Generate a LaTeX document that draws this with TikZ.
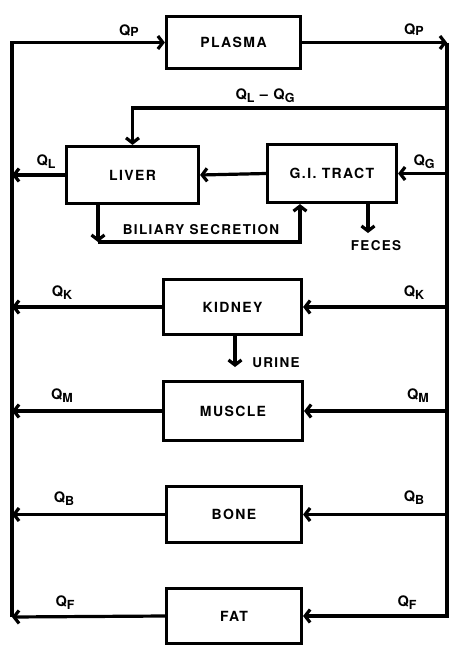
\documentclass[tikz,border=0pt]{standalone}
\usepackage{fontspec}
\setmainfont{TeX Gyre Heros}[LetterSpace=10]
\usetikzlibrary{arrows.meta}
\newcommand{\qsub}[2][-3pt]{Q\raisebox{#1}{\fontsize{12.5}{12}\selectfont #2}}
\tikzset{
  box/.style={draw, line width=3.2pt, inner sep=0pt, font=\fontsize{14}{16}\selectfont\bfseries},
  arr/.style={line width=3.2pt, -{Straight Barb[length=5pt,width=13pt]}},
  lab/.style={inner sep=0pt, font=\fontsize{14.5}{16}\selectfont\bfseries},
}
\begin{document}
\begin{tikzpicture}[x=1pt,y=-1pt]
\useasboundingbox (0,0) rectangle (454,648);
% boxes
\node[box, minimum width=134pt, minimum height=52pt] (plasma) at (233.5,42.5) {PLASMA};
\node[box, minimum width=132pt, minimum height=57pt] (liver) at (132.5,175) {LIVER};
\node[box, minimum width=129pt, minimum height=58pt] (gi) at (332,173.5) {G.I. TRACT};
\node[box, minimum width=138pt, minimum height=55pt] (kidney) at (232.5,307) {KIDNEY};
\node[box, minimum width=139pt, minimum height=59pt] (muscle) at (233,411) {MUSCLE};
\node[box, minimum width=135pt, minimum height=56pt] (bone) at (234,514.5) {BONE};
\node[box, minimum width=135pt, minimum height=55pt] (fat) at (234,616) {FAT};
% rails
\coordinate (LT) at (12,42.5);
\coordinate (LB) at (12,617);
\coordinate (RT) at (447,42.5);
\coordinate (QLG) at (447,108);
\draw[arr] (LB) |- (plasma.west);
\draw[arr] (plasma.east) -- (RT);
\draw[arr] (RT) |- (fat.east);
% left outflows
\draw[arr] (liver.west) -- (liver.west -| LT);
\draw[arr] (kidney.west) -- (kidney.west -| LT);
\draw[arr] (muscle.west) -- (muscle.west -| LT);
\draw[arr] (bone.west) -- (bone.west -| LT);
\draw[arr] (fat.west) -- (LB);
% right inflows
\draw[arr] (gi.east -| RT) -- (gi.east);
\draw[arr] (kidney.east -| RT) -- (kidney.east);
\draw[arr] (muscle.east -| RT) -- (muscle.east);
\draw[arr] (bone.east -| RT) -- (bone.east);
% hepatic
\draw[arr] (QLG) -| (liver.north);
\draw[arr] (gi.west) -- (liver.east);
\coordinate (b1) at (98,242);
\coordinate (b2) at (300,242);
\draw[arr] (liver.south -| b1) -- (b1);
\draw[arr] (b1) -- (b2) -- (gi.south -| b2);
\coordinate (fe) at (368,233);
\draw[arr] (gi.south -| fe) -- (fe);
\coordinate (ur) at (235,367);
\draw[arr] (kidney.south -| ur) -- (ur);
% texts
\node[lab, font=\fontsize{13.5}{16}\selectfont\bfseries] (bil) at (201,230) {BILIARY SECRETION};
\node[lab, font=\fontsize{13.5}{16}\selectfont\bfseries] (fec) at (376,246) {FECES};
\node[lab, font=\fontsize{13.5}{16}\selectfont\bfseries] (uri) at (276,363) {URINE};
% flow labels
\node[lab] (qp1) at (129,31) {\qsub[-1pt]{P}};
\node[lab] (qp2) at (414,30) {\qsub[-1pt]{P}};
\node[lab] (qlg) at (265,96) {\qsub{L} -- \qsub{G}};
\node[lab] (ql) at (46,162) {\qsub{L}};
\node[lab] (qg) at (424,162) {\qsub{G}};
\node[lab] (qk1) at (62,293) {\qsub{K}};
\node[lab] (qk2) at (414,293) {\qsub{K}};
\node[lab] (qm1) at (62,396) {\qsub{M}};
\node[lab] (qm2) at (418,396) {\qsub{M}};
\node[lab] (qb1) at (64,499) {\qsub{B}};
\node[lab] (qb2) at (414,498) {\qsub{B}};
\node[lab] (qf1) at (65,603) {\qsub{F}};
\node[lab] (qf2) at (407,603) {\qsub{F}};
\end{tikzpicture}
\end{document}
